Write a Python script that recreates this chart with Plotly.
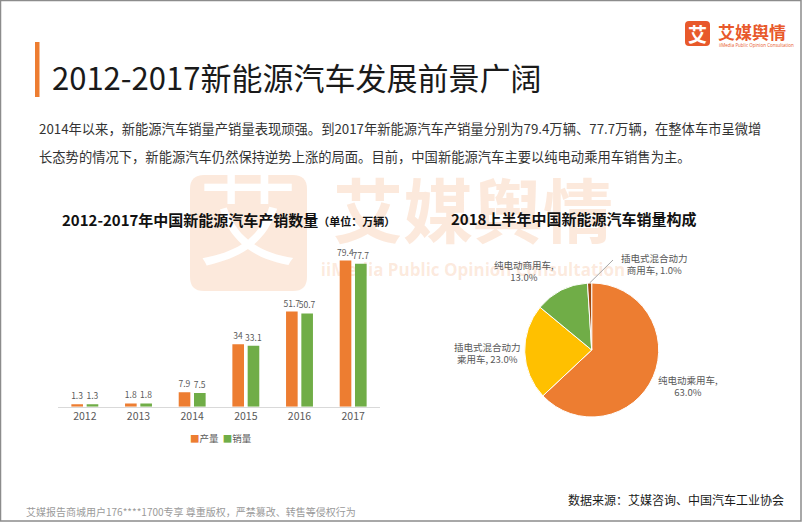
import math
import plotly.graph_objects as go

# ---------------- data ----------------
years = ["2012", "2013", "2014", "2015", "2016", "2017"]
production = [1.3, 1.8, 7.9, 34, 51.7, 79.4]
sales = [1.3, 1.8, 7.5, 33.1, 50.7, 77.7]
bar_names = ["产量", "销量"]

pie_labels = ["纯电动乘用车", "插电式混合动力乘用车", "纯电动商用车", "插电式混合动力商用车"]
pie_values = [63.0, 23.0, 13.0, 1.0]
pie_label_lines = [["纯电动乘用车,", "63.0%"],
                   ["插电式混合动力", "乘用车, 23.0%"],
                   ["纯电动商用车,", "13.0%"],
                   ["插电式混合动力", "商用车, 1.0%"]]

title = "2012-2017新能源汽车发展前景广阔"
para1 = "2014年以来，新能源汽车销量产销量表现顽强。到2017年新能源汽车产销量分别为79.4万辆、77.7万辆，在整体车市呈微增"
para2 = "长态势的情况下，新能源汽车仍然保持逆势上涨的局面。目前，中国新能源汽车主要以纯电动乘用车销售为主。"
bar_title = "2012-2017年中国新能源汽车产销数量"
bar_unit = "（单位：万辆）"
pie_title = "2018上半年中国新能源汽车销量构成"
source = "数据来源：艾媒咨询、中国汽车工业协会"
footer = "艾媒报告商城用户176****1700专享 尊重版权，严禁篡改、转售等侵权行为"

# ---------------- style ----------------
W, H = 802, 522
FONT = "Noto Sans CJK SC"
ORANGE = "#ED7D31"
GREEN = "#70AD47"
YELLOW = "#FFC000"
BROWN = "#9E480E"
GRAY = "#595959"
pie_colors = [ORANGE, YELLOW, GREEN, BROWN]
LOGO = "#E8592B"
WM = "rgba(237,125,49,0.17)"

def px(x):
    return x / W

def py(y):
    return 1 - y / H

fig = go.Figure()

# full-page pixel axis (background layer: watermark text)
fig.add_trace(go.Scatter(
    x=[248, 473, 473], y=[232, 220, 272],
    mode="text",
    text=["艾", "<b>艾媒舆情</b>", "<b>iiMedia Public Opinion Consultation</b>"],
    textfont=dict(family=[FONT, FONT, "Open Sans"], size=[100, 70, 17],
                  color=["white", WM, WM]),
    textposition="middle center",
    hoverinfo="skip", showlegend=False, xaxis="x", yaxis="y",
))

# bars
bar_colors = [ORANGE, GREEN]
for name, vals, col in zip(bar_names, [production, sales], bar_colors):
    fig.add_trace(go.Bar(
        x=years, y=vals, name=name, marker=dict(color=col, line=dict(width=0)),
        text=vals, texttemplate="%{y}", textposition="outside",
        textfont=dict(family=FONT, size=8.5, color=GRAY),
        constraintext="none",
        cliponaxis=False, xaxis="x2", yaxis="y2", showlegend=False,
        hoverinfo="skip",
    ))

# pie
cx, cy, r = 591.7, 350, 67
fig.add_trace(go.Pie(
    labels=pie_labels, values=pie_values, sort=False, direction="clockwise",
    rotation=0, textinfo="none", hoverinfo="skip", showlegend=False,
    marker=dict(colors=pie_colors, line=dict(color="white", width=1)),
    domain=dict(x=[px(cx - r), px(cx + r)], y=[py(cy + r), py(cy - r)]),
))

# ---------------- shapes ----------------
shapes = []
shapes.append(dict(type="rect", xref="x", yref="y", x0=0.5, y0=0.5, x1=W - 1, y1=H - 1,
                   line=dict(color="#8C8C8C", width=1.5), layer="above"))
shapes.append(dict(type="rect", xref="x", yref="y", x0=35, y0=42, x1=39.5, y1=97,
                   fillcolor=ORANGE, line=dict(width=0)))

def rrect(x0, y0, x1, y1, rad):
    return (f"M {x0+rad},{y0} L {x1-rad},{y0} Q {x1},{y0} {x1},{y0+rad} "
            f"L {x1},{y1-rad} Q {x1},{y1} {x1-rad},{y1} L {x0+rad},{y1} "
            f"Q {x0},{y1} {x0},{y1-rad} L {x0},{y0+rad} Q {x0},{y0} {x0+rad},{y0} Z")

shapes.append(dict(type="path", xref="x", yref="y", path=rrect(190, 175, 307, 291, 14),
                   fillcolor=WM, line=dict(width=0), layer="below"))
shapes.append(dict(type="path", xref="x", yref="y", path=rrect(685, 21, 710, 46, 4),
                   fillcolor=LOGO, line=dict(width=0)))

# leader line for the smallest slice (computed from data)
total = sum(pie_values)
cum = sum(pie_values[:-1]) + pie_values[-1] / 2
ang = 2 * math.pi * cum / total
ex, ey = cx + r * math.sin(ang), cy - r * math.cos(ang)
shapes.append(dict(type="line", xref="x", yref="y", x0=ex, y0=ey, x1=613, y1=260,
                   line=dict(color="#A6A6A6", width=1)))

# ---------------- annotations ----------------
ann = []

def add(text, x, y, size, color="#333333", xanchor="left", family=FONT, align="left"):
    ann.append(dict(text=text, x=x, y=y, xref="x", yref="y", showarrow=False,
                    xanchor=xanchor, yanchor="middle",
                    font=dict(family=family, size=size, color=color), align=align))

add(title, 50, 76, 31, "#1A1A1A")
add(para1, 37, 128, 13.3, "#333333")
add(para2, 37, 156, 13.3, "#333333")
add(f"<b>{bar_title}</b><span style='font-size:11px'><b>{bar_unit}</b></span>", 60, 219, 15, "#111111")
add(f"<b>{pie_title}</b>", 449, 218, 15, "#111111")

leg = "  ".join(f"<span style='color:{c}'>■</span>{n}" for n, c in zip(bar_names, bar_colors))
add(leg, 221, 438, 9.5, GRAY, xanchor="center")

pie_pos = [(688, 386), (487, 353), (524, 271), (654, 264)]
for lines, (lx, ly) in zip(pie_label_lines, pie_pos):
    add("<br>".join(lines), lx, ly, 9.5, GRAY, xanchor="center", align="center")

add("<b>艾</b>", 697.5, 33.5, 19, "white", xanchor="center")
add("<b>艾媒舆情</b>", 716, 31, 17, LOGO)
add("iiMedia Public Opinion Consultation", 717, 45, 4.5, LOGO, family="Open Sans")

add(source, 786, 499, 12, "#1A1A1A", xanchor="right")
add(footer, 24, 511, 10, "#9A9A9A")

fig.update_layout(
    width=W, height=H, margin=dict(l=0, r=0, t=0, b=0),
    paper_bgcolor="white", plot_bgcolor="rgba(0,0,0,0)",
    shapes=shapes, annotations=ann,
    barmode="group", bargap=0.43, bargroupgap=0.24,
    xaxis=dict(domain=[0, 1], range=[0, W], visible=False, fixedrange=True),
    yaxis=dict(domain=[0, 1], range=[H, 0], visible=False, fixedrange=True),
    xaxis2=dict(domain=[px(58), px(380)], anchor="y2", type="category",
                showline=True, linecolor="#D9D9D9", linewidth=1, showgrid=False,
                ticks="", tickfont=dict(family=FONT, size=10.5, color=GRAY),
                fixedrange=True),
    yaxis2=dict(domain=[py(406.7), py(240)], anchor="x2", range=[0, 90.6],
                visible=False, showgrid=False, fixedrange=True),
    font=dict(family=FONT),
)

fig.write_html("out.html")
